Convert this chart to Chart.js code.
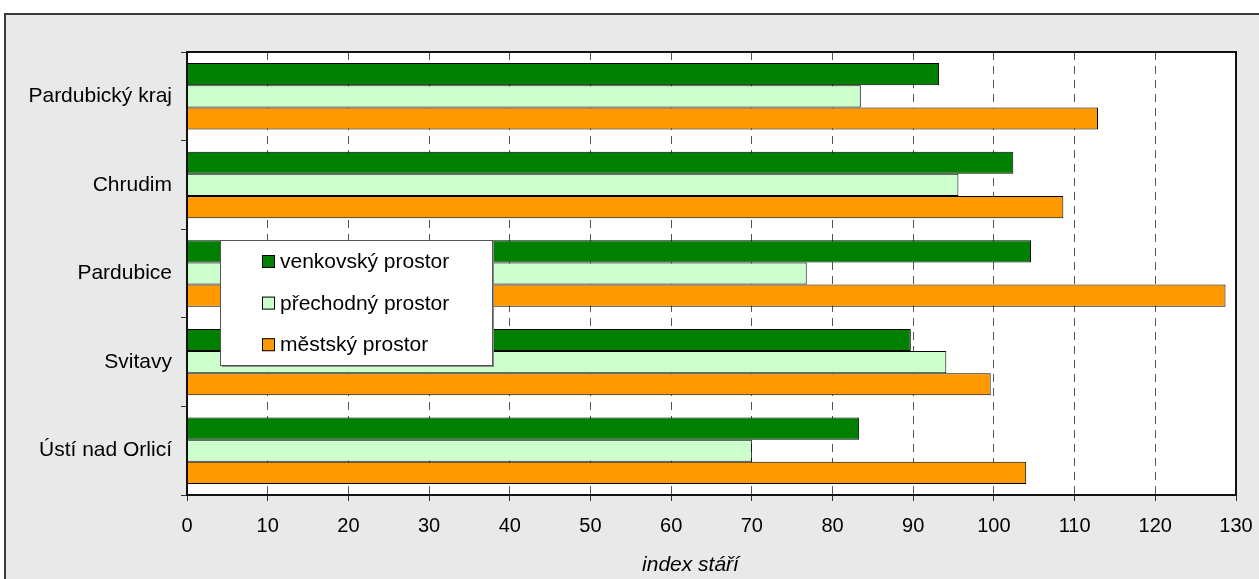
<!DOCTYPE html>
<html>
<head>
<meta charset="utf-8">
<script src="https://cdn.jsdelivr.net/npm/chart.js@4/dist/chart.umd.min.js"></script>
<style>
    body { margin: 0; background: #ffffff; overflow: hidden; }
    #frame {
        position: absolute;
        left: 4px;
        top: 13px;
        width: 1300px;
        height: 620px;
        border: 2px solid #3a3a3a;
        background: #e9e9e9;
    }
    #chart { display: block; }
</style>
</head>
<body>
<div id="frame">
    <canvas id="chart" width="1300" height="620"></canvas>
</div>
<script>
// data
const categories = ['Pardubický kraj', 'Chrudim', 'Pardubice', 'Svitavy', 'Ústí nad Orlicí'];
const venkovsky = [93.2, 102.4, 104.6, 89.7, 83.3];
const prechodny = [83.5, 95.6, 76.8, 94.1, 70.0];
const mestsky = [112.9, 108.6, 128.7, 99.6, 104.0];
const seriesNames = ['venkovský prostor', 'přechodný prostor', 'městský prostor'];
const axisMin = 0;
const axisMax = 130;
const axisStep = 10;
const axisTitle = 'index stáří';

const fontFamily = '"Liberation Sans", Arial, sans-serif';

// white plot area + border round it
const plotBackground = {
    id: 'plotBackground',
    beforeDraw: function(chart) {
        const a = chart.chartArea;
        const ctx = chart.ctx;
        ctx.save();
        ctx.fillStyle = '#ffffff';
        ctx.fillRect(a.left, a.top, a.right - a.left, a.bottom - a.top);
        ctx.restore();
    },
    afterDraw: function(chart) {
        const a = chart.chartArea;
        const ctx = chart.ctx;
        ctx.save();
        ctx.strokeStyle = '#111111';
        ctx.lineWidth = 2;
        ctx.strokeRect(a.left, a.top, a.right - a.left, a.bottom - a.top);

        // axis title sits a bit left of the plot centre in the original
        ctx.font = 'italic 21px ' + fontFamily;
        ctx.fillStyle = '#000000';
        ctx.textAlign = 'center';
        ctx.textBaseline = 'middle';
        ctx.fillText(axisTitle, (a.left + a.right) / 2 - 21, a.bottom + 70);
        ctx.restore();
    }
};

// legend box drawn inside the plot, like the original
const boxLegend = {
    id: 'boxLegend',
    afterDraw: function(chart) {
        const ctx = chart.ctx;
        const x = 214, y = 225, w = 272, h = 125;
        ctx.save();
        ctx.fillStyle = '#8a8a8a';
        ctx.fillRect(x + 2, y + 2, w, h);
        ctx.fillStyle = '#ffffff';
        ctx.fillRect(x, y, w, h);
        ctx.strokeStyle = '#555555';
        ctx.lineWidth = 1;
        ctx.strokeRect(x + 0.5, y + 0.5, w, h);

        ctx.font = '21px ' + fontFamily;
        ctx.textBaseline = 'middle';
        ctx.textAlign = 'left';
        chart.data.datasets.forEach(function(ds, i) {
            const cy = y + 21.5 + i * 41.6;
            ctx.fillStyle = ds.backgroundColor;
            ctx.fillRect(42 + x, cy - 6.5, 13, 13);
            ctx.strokeStyle = '#000000';
            ctx.strokeRect(42.5 + x, cy - 6, 12, 12);
            ctx.fillStyle = '#000000';
            ctx.fillText(ds.label, x + 60, cy + 1);
        });
        ctx.restore();
    }
};

new Chart(document.getElementById('chart'), {
    type: 'bar',
    data: {
        labels: categories,
        datasets: [{
            label: seriesNames[0],
            data: venkovsky,
            backgroundColor: '#008000',
            borderColor: '#000000',
            borderWidth: 1
        }, {
            label: seriesNames[1],
            data: prechodny,
            backgroundColor: '#ccffcc',
            borderColor: '#000000',
            borderWidth: 1
        }, {
            label: seriesNames[2],
            data: mestsky,
            backgroundColor: '#ff9900',
            borderColor: '#000000',
            borderWidth: 1
        }]
    },
    options: {
        indexAxis: 'y',
        responsive: false,
        animation: false,
        categoryPercentage: 0.75,
        barPercentage: 1.0,
        layout: {
            padding: { left: 0, top: 37, right: 70, bottom: 60 }
        },
        scales: {
            x: {
                min: axisMin,
                max: axisMax,
                afterFit: function(scale) { scale.height = 80; },
                ticks: {
                    stepSize: axisStep,
                    color: '#000000',
                    padding: 13,
                    font: { family: fontFamily, size: 20 }
                },
                grid: {
                    color: '#555555',
                    tickBorderDash: [],
                    tickColor: '#333333',
                    tickLength: 6,
                    lineWidth: 1
                },
                // in v4 the dash of the grid lines lives under border
                border: { display: true, color: '#111111', width: 2, dash: [8, 6] },
                title: { display: false }
            },
            y: {
                afterFit: function(scale) { scale.width = 181; },
                ticks: {
                    color: '#000000',
                    padding: 9,
                    font: { family: fontFamily, size: 21 }
                },
                grid: {
                    drawOnChartArea: false,
                    tickColor: '#333333',
                    tickLength: 6
                },
                border: { display: true, color: '#111111', width: 2 }
            }
        },
        plugins: {
            legend: { display: false },
            tooltip: { enabled: false }
        }
    },
    plugins: [plotBackground, boxLegend]
});
</script>
</body>
</html>
